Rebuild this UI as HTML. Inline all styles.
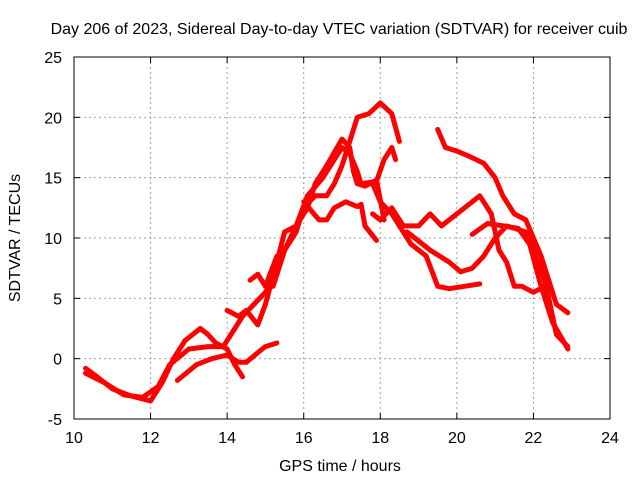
<!DOCTYPE html>
<html><head><meta charset="utf-8"><style>
body{margin:0;background:#fff}
svg text{font-family:"Liberation Sans",sans-serif;font-size:16px;fill:#000}
</style></head><body>
<svg id="chart" width="640" height="480" xmlns="http://www.w3.org/2000/svg">
<text x="339" y="34" text-anchor="middle">Day 206 of 2023, Sidereal Day-to-day VTEC variation (SDTVAR) for receiver cuib</text>
<text x="340" y="471" text-anchor="middle">GPS time / hours</text>
<text transform="translate(20,238) rotate(-90)" text-anchor="middle">SDTVAR / TECUs</text>
<g id="grid"></g><g id="series"></g>
<rect x="74" y="57" width="536" height="362" fill="none" stroke="#000" stroke-width="1"/>
<g id="ticks"></g>
</svg>
<script>
const xTicks=[10,12,14,16,18,20,22,24];
const yTicks=[-5,0,5,10,15,20,25];
const t1x=[10.3,10.6,11,11.5,12,12.3,12.6,12.9,13.3,13.5,13.7,14,14.2,14.4];
const t1y=[-0.8,-1.5,-2.5,-3.1,-3.5,-2,0,1.5,2.5,2,1.3,0.8,-0.5,-1.5];
const t2x=[10.3,10.8,11.3,11.8,12.2,12.5,13,13.5,13.9,14.1,14.4,14.7,15,15.3,15.5,15.8,16.1,16.5,16.8,17,17.2,17.4,17.5,17.8,18,18.3,18.5,18.8,19.2,19.5,19.8,20.2,20.6];
const t2y=[-1.2,-2,-3,-3.2,-2.3,-0.5,0.8,1,1,2,3.5,4.5,5.5,7,9,11,13.5,15,16.5,17.5,17,15.5,14.5,14.5,13,12,11,9.5,8.5,6,5.8,6,6.2];
const t3x=[12.7,13.2,13.6,14,14.3,14.5,14.8,15,15.3];
const t3y=[-1.8,-0.5,0,0.3,-0.3,-0.3,0.5,1,1.3];
const t4x=[14,14.3,14.5,14.8,15,15.3,15.5,15.8,16.1,16.3,16.6,17,17.2,17.3,17.4,17.6,17.9,18.1];
const t4y=[4,3.5,4,2.8,4.5,8,10.5,11,12.5,14.5,16,18.2,17.5,15.5,14.5,14.3,14.8,11.5];
const t5x=[15.2,15.5,15.8,16,16.3,16.6,16.8,17,17.2,17.4,17.7,18,18.3,18.5];
const t5y=[6,9,10.5,12.5,13.5,13.5,14.5,16,18,20,20.3,21.2,20.3,18];
const t6x=[16,16.4,16.6,16.8,17.1,17.4,17.5,17.6,17.9];
const t6y=[13,11.5,11.5,12.5,13,12.6,12.8,11,9.8];
const t7x=[14.6,14.8,15,15.3];
const t7y=[6.5,7,6,8.5];
const t8x=[17.5,17.9,18.1,18.3,18.4];
const t8y=[14.5,14.7,16.5,17.5,16.5];
const t9x=[17.8,18,18.3,18.6,19,19.3,19.6,20,20.4,20.6,20.9,21.1,21.3,21.5,21.7,22,22.3,22.5];
const t9y=[12,11.5,12.5,11,11,12,11,12,13,13.5,12,9,8,6,6,5.5,6,5.5];
const t10x=[18.7,19.3,19.8,20.1,20.4,20.7,21,21.3,21.5,21.8,22,22.3,22.6,22.9];
const t10y=[10.5,9,8,7.2,7.5,8.5,10,11,10.8,10.5,9,6.5,2,1];
const t11x=[19.5,19.7,20,20.3,20.7,21,21.2,21.5,21.8,22,22.2,22.4,22.6,22.9];
const t11y=[19,17.5,17.2,16.8,16.2,15,13.5,12,11.5,10,8.5,6.5,4.5,3.8];
const t12x=[20.4,20.8,21.2,21.6,21.9,22.2,22.5,22.9];
const t12y=[10.3,11.2,11,10.8,9.5,6,3,0.8];
const seriesX=[t1x,t2x,t3x,t4x,t5x,t6x,t7x,t8x,t9x,t10x,t11x,t12x];
const seriesY=[t1y,t2y,t3y,t4y,t5y,t6y,t7y,t8y,t9y,t10y,t11y,t12y];
const X=h=>74+(h-10)*536/14, Y=v=>57+(25-v)*362/30;
const NS="http://www.w3.org/2000/svg";
const grid=document.getElementById('grid'),tk=document.getElementById('ticks'),sg=document.getElementById('series');
function mk(tag,attrs,parent){const e=document.createElementNS(NS,tag);for(const k in attrs)e.setAttribute(k,attrs[k]);parent.appendChild(e);return e;}
xTicks.forEach(t=>{
  if(t>10&&t<24){const g=mk('line',{x1:X(t),x2:X(t),y1:57,y2:419,stroke:'#a0a0a0','stroke-dasharray':'2,3'},grid);
  
  }
  const l=mk('text',{x:X(t),y:443,'text-anchor':'middle'},tk);l.textContent=t;
  
  
  mk('line',{x1:X(t),x2:X(t),y1:419,y2:413,stroke:'#000'},tk);
  mk('line',{x1:X(t),x2:X(t),y1:57,y2:63,stroke:'#000'},tk);
});
yTicks.forEach(t=>{
  if(t>-5&&t<25){const g=mk('line',{x1:74,x2:610,y1:Y(t),y2:Y(t),stroke:'#a0a0a0','stroke-dasharray':'2,3'},grid);
  
  }
  const l=mk('text',{x:62,y:Y(t)+6,'text-anchor':'end'},tk);l.textContent=t;
  
  
  mk('line',{x1:74,x2:80,y1:Y(t),y2:Y(t),stroke:'#000'},tk);
  mk('line',{x1:610,x2:604,y1:Y(t),y2:Y(t),stroke:'#000'},tk);
});
seriesX.forEach((xs,i)=>{
  const ys=seriesY[i];
  const pts=xs.map((x,j)=>X(x).toFixed(1)+','+Y(ys[j]).toFixed(1)).join(' ');
  const p=mk('polyline',{points:pts,fill:'none',stroke:'#ff0000','stroke-width':5,'stroke-linejoin':'round','stroke-linecap':'round'},sg);
  
  
});
</script>
</body></html>
